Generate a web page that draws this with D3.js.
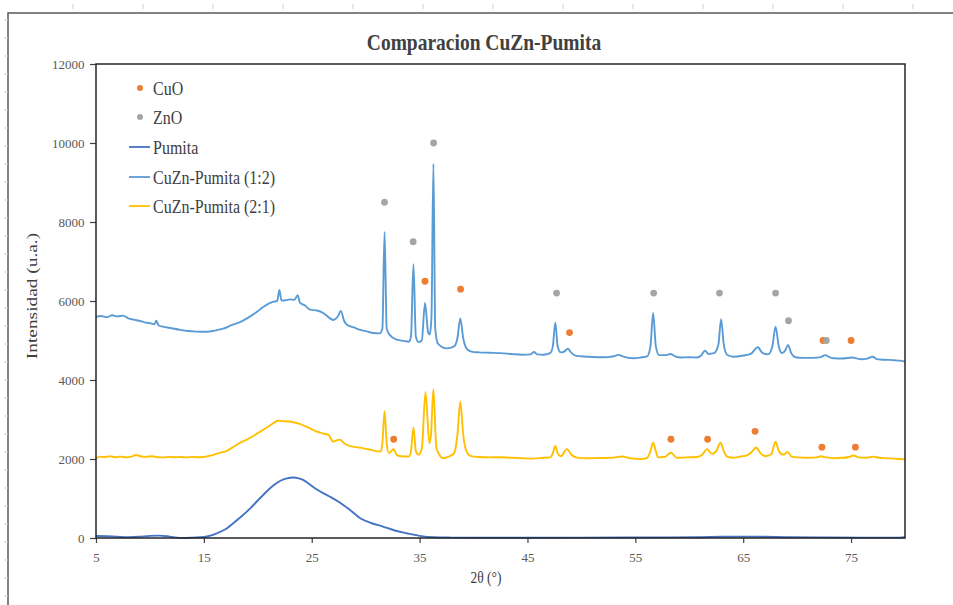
<!DOCTYPE html>
<html>
<head>
<meta charset="utf-8">
<script src="https://cdn.jsdelivr.net/npm/d3@7"></script>
<style>
  body { margin: 0; background: #fff; }
  svg { display: block; }
</style>
</head>
<body>
<svg width="953" height="605"></svg>
<script>
// 2theta, intensity pairs
const pumita = [[5,50],[6,45],[7,30],[8,20],[9,30],[10,55],[10.8,60],[11.6,45],[12.3,15],[13.1,0],[14,10],[15,25],[15.6,60],[16.2,120],[17,220],[17.7,370],[18.5,550],[19.3,750],[20,950],[20.8,1170],[21.5,1340],[22.1,1450],[22.7,1510],[23.3,1530],[23.8,1510],[24.2,1470],[24.7,1380],[25.3,1260],[26.1,1130],[26.8,1030],[27.6,900],[28.5,720],[29.5,500],[30.5,380],[31.6,290],[32.7,190],[33.8,120],[35,55],[36.3,20],[38,10],[40,5],[43,5],[46,8],[50,10],[54,12],[58,15],[61,20],[63,30],[65,35],[67,30],[69,20],[72,15],[76,10],[79.5,10],[80,20]];

const cuzn12 = [[5,5600],[5.5,5620],[6,5590],[6.5,5640],[7,5610],[7.5,5630],[8,5560],[8.5,5530],[9,5500],[9.5,5460],[10,5440],[10.4,5410],[10.6,5500],[10.8,5380],[11.2,5350],[12,5310],[12.8,5270],[13.5,5240],[14.3,5225],[15.3,5220],[16,5250],[16.8,5300],[17.5,5380],[18.3,5460],[19,5560],[19.8,5700],[20.5,5850],[21.4,5980],[21.8,6000],[22.0,6280],[22.2,6010],[22.6,6020],[23.0,6040],[23.4,6030],[23.7,6150],[23.9,5960],[24.4,5880],[24.85,5780],[25.5,5760],[26.1,5690],[26.7,5560],[27.0,5520],[27.4,5600],[27.7,5750],[28.0,5500],[28.3,5390],[28.9,5330],[29.5,5270],[30.1,5230],[30.7,5190],[31.3,5180],[31.55,5300],[31.75,7750],[31.95,5300],[32.2,5150],[32.9,5020],[33.5,4990],[34.0,4970],[34.2,5100],[34.43,6930],[34.65,5100],[34.9,4960],[35.2,5000],[35.5,5950],[35.8,5200],[35.95,5150],[36.1,5600],[36.28,9470],[36.45,5300],[36.7,4920],[37.5,4800],[38.2,4850],[38.5,5050],[38.77,5560],[39.05,5050],[39.4,4780],[39.8,4720],[40.5,4700],[41.5,4690],[42.5,4680],[43.5,4660],[44.5,4640],[45.3,4650],[45.6,4710],[45.9,4650],[46.5,4640],[47.1,4680],[47.35,4850],[47.58,5450],[47.8,4850],[48.1,4700],[48.4,4720],[48.75,4790],[49.1,4680],[49.5,4610],[50.5,4590],[51.75,4575],[52.5,4580],[53.0,4600],[53.45,4635],[53.9,4590],[54.8,4550],[55.5,4570],[56.1,4600],[56.4,4850],[56.65,5700],[56.9,4850],[57.2,4630],[57.8,4630],[58.25,4660],[58.7,4600],[59.2,4570],[60.0,4575],[60.7,4570],[61.1,4620],[61.45,4740],[61.8,4660],[62.3,4680],[62.7,4900],[62.95,5540],[63.2,4900],[63.5,4640],[64.1,4590],[65.0,4620],[65.7,4660],[66.35,4830],[66.8,4680],[67.3,4650],[67.7,4850],[68.0,5350],[68.3,4850],[68.6,4680],[68.9,4750],[69.15,4890],[69.45,4680],[69.85,4575],[70.5,4560],[71.5,4560],[72.2,4580],[72.6,4630],[73.0,4580],[73.4,4550],[74.2,4545],[75.1,4570],[75.6,4540],[75.9,4525],[76.5,4540],[77.0,4590],[77.4,4530],[77.7,4520],[78.5,4510],[79.0,4500],[79.5,4490],[80,4465]];

const cuzn21 = [[5,2000],[5.3,2060],[5.8,2050],[6.3,2070],[6.8,2045],[7.3,2060],[7.8,2040],[8.3,2060],[8.7,2100],[9.1,2070],[9.6,2055],[10.2,2070],[10.7,2045],[11.2,2040],[11.8,2055],[12.3,2045],[12.8,2050],[13.4,2040],[13.9,2055],[14.4,2045],[14.9,2050],[15.4,2075],[15.8,2100],[16.4,2150],[17.06,2200],[17.7,2300],[18.3,2400],[18.9,2480],[19.5,2570],[20.1,2670],[20.8,2790],[21.4,2900],[21.85,2970],[22.3,2960],[22.9,2950],[23.3,2930],[23.9,2890],[24.4,2830],[24.8,2780],[25.5,2690],[26.0,2650],[26.55,2610],[27.0,2440],[27.3,2470],[27.6,2490],[28.0,2400],[28.5,2330],[29.1,2300],[29.8,2270],[30.5,2230],[31.0,2200],[31.4,2190],[31.55,2400],[31.75,3210],[31.95,2400],[32.15,2150],[32.58,2245],[32.9,2100],[33.3,2070],[34.0,2065],[34.2,2200],[34.43,2800],[34.65,2200],[34.9,2110],[35.2,2250],[35.55,3700],[35.9,2400],[36.05,2600],[36.28,3770],[36.55,2300],[36.9,2080],[37.2,2020],[37.7,2060],[38.2,2150],[38.5,2600],[38.77,3450],[39.05,2600],[39.3,2230],[39.7,2080],[40.5,2050],[41.5,2040],[42.5,2045],[43.5,2030],[44.5,2020],[45.5,2010],[46.5,2030],[47.1,2040],[47.35,2150],[47.58,2330],[47.8,2150],[48.1,2070],[48.65,2250],[49.1,2100],[49.6,2035],[50.5,2020],[51.75,2025],[52.8,2030],[53.76,2065],[54.5,2020],[55.5,2000],[56.1,2030],[56.4,2200],[56.65,2410],[56.9,2200],[57.1,2040],[57.7,2050],[58.3,2160],[58.85,2030],[59.7,2040],[60.7,2050],[61.2,2110],[61.65,2250],[62.1,2130],[62.5,2200],[62.9,2410],[63.2,2200],[63.5,2060],[64.1,2030],[64.7,2060],[65.35,2090],[65.8,2180],[66.2,2290],[66.6,2150],[67.05,2070],[67.6,2120],[68.0,2440],[68.3,2200],[68.75,2110],[69.1,2180],[69.5,2060],[70.0,2040],[71.0,2030],[71.8,2040],[72.2,2070],[72.7,2040],[73.4,2020],[74.2,2030],[74.8,2050],[75.2,2090],[75.7,2040],[76.3,2030],[77.1,2060],[77.6,2030],[78.3,2020],[79.0,2010],[79.6,2000],[80,1990]];

// phase markers
const cuo = [[35.5,6500],[38.8,6300],[48.9,5200],[72.4,5000],[75.0,5000],[32.6,2500],[58.3,2500],[61.7,2500],[66.1,2700],[72.3,2300],[75.4,2300]];
const zno = [[31.75,8500],[34.4,7500],[36.3,10000],[47.7,6200],[56.7,6200],[62.8,6200],[68.0,6200],[69.2,5500],[72.7,5000]];

const xTicks = [5, 15, 25, 35, 45, 55, 65, 75];
const yTicks = [0, 2000, 4000, 6000, 8000, 10000, 12000];

const SERIF = '"Liberation Serif"';
const STRETCH = 1.2; // the source screenshot is a little taller than wide

const svg = d3.select("svg");
const m = { left: 96, right: 905, top: 64, bottom: 538 };

const x = d3.scaleLinear().domain([5, 80]).range([m.left, m.right]);
const y = d3.scaleLinear().domain([0, 12000]).range([m.bottom, m.top]);

// outer chart frame + faint ruler marks from the screenshot
svg.append("rect").attr("x", 8).attr("y", 13).attr("width", 960).attr("height", 600)
  .attr("fill", "none").attr("stroke", "#595959").attr("stroke-width", 1.5);
const rul = svg.append("g").attr("stroke", "#d0d0d0");
for (let i = 0; i < 34; i++) rul.append("line").attr("x1", 4).attr("x2", 8).attr("y1", 20 + i * 18).attr("y2", 20 + i * 18);
for (let i = 0; i < 14; i++) rul.append("line").attr("y1", 4).attr("y2", 9).attr("x1", 73 + i * 70).attr("x2", 73 + i * 70);

svg.append("text").attr("transform", `translate(484,50) scale(1,${STRETCH})`).attr("text-anchor", "middle")
  .style("font-family", SERIF)
  .attr("font-size", 19.5).attr("font-weight", "bold").attr("fill", "#404040")
  .text("Comparacion CuZn-Pumita");

// axes
const gx = svg.append("g").attr("transform", `translate(0,${m.bottom})`)
  .call(d3.axisBottom(x).tickValues(xTicks).tickSize(5).tickSizeOuter(0).tickFormat(d3.format("d")));
const gy = svg.append("g").attr("transform", `translate(${m.left},0)`)
  .call(d3.axisLeft(y).tickValues(yTicks).tickSize(6).tickSizeOuter(0).tickFormat(d3.format("d")));
[gx, gy].forEach(g => {
  g.attr("font-family", null);
  g.select(".domain").remove();
  g.selectAll(".tick line").attr("stroke", "#404040").attr("stroke-width", 1.2);
  g.selectAll(".tick text").attr("font-size", 13).attr("fill", "#595959")
    .style("font-family", SERIF);
});
gx.selectAll(".tick text").attr("dy", "1.2em");
gy.selectAll(".tick text").attr("dx", "-0.2em");

svg.append("text").attr("transform", `translate(37,296) rotate(-90) scale(${STRETCH + 0.05},1)`).attr("text-anchor", "middle")
  .style("font-family", SERIF)
  .attr("font-size", 15.5).attr("fill", "#404040").text("Intensidad (u.a.)");
svg.append("text").attr("transform", `translate(486,583) scale(1,${STRETCH})`).attr("text-anchor", "middle")
  .style("font-family", SERIF)
  .attr("font-size", 13.5).attr("fill", "#404040").text("2θ (°)");

const line = d3.line().x(d => x(d[0])).y(d => y(d[1])).curve(d3.curveMonotoneX);

const series = [
  { name: "Pumita", data: pumita, color: "#4472C4" },
  { name: "CuZn-Pumita (1:2)", data: cuzn12, color: "#5B9BD5" },
  { name: "CuZn-Pumita (2:1)", data: cuzn21, color: "#FFC000" }
];

svg.append("g").selectAll("path").data(series).join("path")
  .attr("d", d => line(d.data))
  .attr("fill", "none")
  .attr("stroke", d => d.color)
  .attr("stroke-width", 1.9)
  .attr("stroke-linejoin", "round");

svg.append("g").selectAll("circle").data(cuo).join("circle")
  .attr("cx", d => x(d[0])).attr("cy", d => y(d[1])).attr("r", 3.4).attr("fill", "#ED7D31");
svg.append("g").selectAll("circle").data(zno).join("circle")
  .attr("cx", d => x(d[0])).attr("cy", d => y(d[1])).attr("r", 3.4).attr("fill", "#A5A5A5");

// plot frame
svg.append("rect").attr("x", m.left).attr("y", m.top)
  .attr("width", m.right - m.left).attr("height", m.bottom - m.top)
  .attr("fill", "none").attr("stroke", "#262626").attr("stroke-width", 1.5);

// legend
const legend = [
  { name: "CuO", type: "dot", color: "#ED7D31", y: 88 },
  { name: "ZnO", type: "dot", color: "#A5A5A5", y: 117 },
  { name: "Pumita", type: "line", color: "#4472C4", y: 147 },
  { name: "CuZn-Pumita (1:2)", type: "line", color: "#5B9BD5", y: 177 },
  { name: "CuZn-Pumita (2:1)", type: "line", color: "#FFC000", y: 206 }
];
const lg = svg.append("g").selectAll("g").data(legend).join("g")
  .attr("transform", d => `translate(0,${d.y})`);
lg.filter(d => d.type === "dot").append("circle")
  .attr("cx", 140).attr("cy", 0).attr("r", 3).attr("fill", d => d.color);
lg.filter(d => d.type === "line").append("line")
  .attr("x1", 129).attr("x2", 150).attr("stroke", d => d.color).attr("stroke-width", 1.8);
lg.append("text").attr("transform", `translate(153,0) scale(1,${STRETCH})`).attr("dy", "0.35em")
  .style("font-family", SERIF)
  .attr("font-size", 16).attr("fill", "#404040").text(d => d.name);
</script>
</body>
</html>
